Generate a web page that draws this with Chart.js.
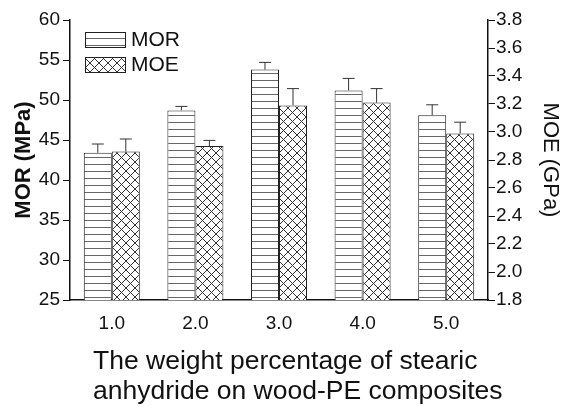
<!DOCTYPE html>
<html>
<head>
<meta charset="utf-8">
<script src="https://cdn.jsdelivr.net/npm/chart.js@4/dist/chart.umd.min.js"></script>
<style>
  html, body { margin: 0; padding: 0; background: #fff; }
  #wrap { width: 563px; height: 406px; }
</style>
</head>
<body>
<div id="wrap"><canvas id="chart"></canvas></div>
<script>
// values
const categories = ["1.0", "2.0", "3.0", "4.0", "5.0"];
const morValues = [43.4, 48.7, 53.8, 51.2, 48.1];
const morErrors = [1.1, 0.5, 0.9, 1.5, 1.3];
const moeValues = [2.86, 2.90, 3.19, 3.21, 2.99];
const moeErrors = [0.09, 0.04, 0.12, 0.10, 0.08];
const xTitleLines = ["The weight percentage of stearic", "anhydride on wood-PE composites"];

const FONT = "'Liberation Sans', Arial, sans-serif";
const INK = "#111";

// hatch fills
function makeHatch(size, draw) {
  const c = document.createElement("canvas");
  c.width = size; c.height = size;
  const g = c.getContext("2d");
  g.fillStyle = "#fff";
  g.fillRect(0, 0, size, size);
  draw(g, size);
  return g.createPattern(c, "repeat");
}
const lineFill = makeHatch(7, (g, s) => {
  g.fillStyle = "#666";
  g.fillRect(0, 3, s, 1);
});
const crossFill = makeHatch(9, (g, s) => {
  g.strokeStyle = "#333";
  g.lineWidth = 1;
  g.beginPath();
  g.moveTo(0, 0); g.lineTo(s, s);
  g.moveTo(s, 0); g.lineTo(0, s);
  g.stroke();
});

const errorBars = {
  id: "errorBars",
  afterDatasetsDraw(chart) {
    const ctx = chart.ctx;
    ctx.save();
    ctx.strokeStyle = "#333";
    ctx.lineWidth = 1;
    chart.data.datasets.forEach((ds, i) => {
      const meta = chart.getDatasetMeta(i);
      const scale = chart.scales[meta.yAxisID];
      meta.data.forEach((bar, j) => {
        const yTop = scale.getPixelForValue(ds.data[j] + ds.errors[j]);
        ctx.beginPath();
        ctx.moveTo(bar.x, bar.y);
        ctx.lineTo(bar.x, yTop);
        ctx.moveTo(bar.x - 6, yTop);
        ctx.lineTo(bar.x + 6, yTop);
        ctx.stroke();
      });
    });
    ctx.restore();
  }
};

const boxLegend = {
  id: "boxLegend",
  afterDraw(chart) {
    const ctx = chart.ctx;
    const a = chart.chartArea;
    ctx.save();
    ctx.font = "21px " + FONT;
    ctx.textBaseline = "middle";
    chart.data.datasets.forEach((ds, i) => {
      const x = a.left + 15, y = a.top + 12 + i * 25;
      ctx.fillStyle = ds.backgroundColor;
      ctx.fillRect(x, y, 40, 15);
      ctx.strokeStyle = "#222";
      ctx.lineWidth = 1;
      ctx.strokeRect(x + 0.5, y + 0.5, 40, 15);
      ctx.fillStyle = INK;
      ctx.fillText(ds.label, x + 46, y + 8);
    });
    ctx.restore();
  }
};

const xTitle = {
  id: "xTitle",
  afterDraw(chart) {
    const ctx = chart.ctx;
    ctx.save();
    ctx.font = "26.5px " + FONT;
    ctx.fillStyle = INK;
    ctx.textBaseline = "middle";
    xTitleLines.forEach((t, i) => ctx.fillText(t, 93, 362 + i * 30));
    ctx.restore();
  }
};

new Chart("chart", {
  type: "bar",
  data: {
    labels: categories,
    datasets: [
      {
        label: "MOR",
        data: morValues,
        errors: morErrors,
        yAxisID: "y",
        backgroundColor: lineFill,
        borderColor: "#222",
        borderWidth: 1,
        categoryPercentage: 0.67,
        barPercentage: 1.0
      },
      {
        label: "MOE",
        data: moeValues,
        errors: moeErrors,
        yAxisID: "y1",
        backgroundColor: crossFill,
        borderColor: "#222",
        borderWidth: 1,
        categoryPercentage: 0.67,
        barPercentage: 1.0
      }
    ]
  },
  options: {
    responsive: true,
    maintainAspectRatio: false,
    animation: false,
    layout: { padding: { top: 20, left: 0, right: 0, bottom: 0 } },
    plugins: {
      legend: { display: false },
      tooltip: { enabled: false }
    },
    scales: {
      x: {
        grid: { display: false },
        border: { display: true, color: INK, width: 1.5 },
        ticks: { color: INK, font: { family: FONT, size: 19 }, padding: 4 },
        afterFit(s) { s.height = 106; }
      },
      y: {
        position: "left",
        min: 25,
        max: 60,
        ticks: { stepSize: 5, color: INK, font: { family: FONT, size: 19 }, padding: 3 },
        grid: { drawOnChartArea: false, drawTicks: true, tickLength: 7, tickColor: INK },
        border: { display: true, color: INK, width: 1.5 },
        title: {
          display: true,
          text: "MOR (MPa)",
          color: INK,
          font: { family: FONT, size: 22, weight: "bold" },
          padding: { top: 11, bottom: 0 }
        },
        afterFit(s) { s.width = 70; }
      },
      y1: {
        position: "right",
        min: 1.8,
        max: 3.8,
        ticks: {
          stepSize: 0.2,
          color: INK,
          font: { family: FONT, size: 19 },
          padding: 1,
          callback: v => Number(v).toFixed(1)
        },
        grid: { drawOnChartArea: false, drawTicks: true, tickLength: 7, tickColor: INK },
        border: { display: true, color: INK, width: 1.5 },
        title: {
          display: true,
          text: "MOE (GPa)",
          color: INK,
          font: { family: FONT, size: 22 },
          padding: { top: 0, bottom: 0 }
        },
        afterFit(s) { s.width = 75; }
      }
    }
  },
  plugins: [errorBars, boxLegend, xTitle]
});
</script>
</body>
</html>
